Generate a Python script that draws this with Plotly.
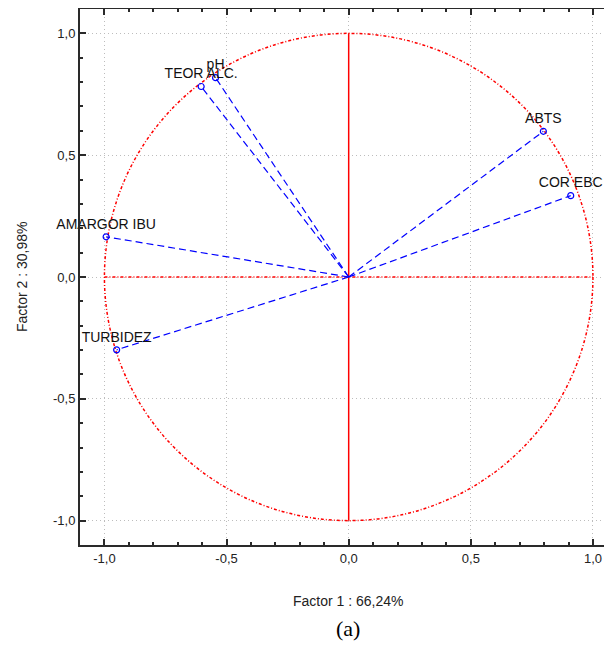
import plotly.graph_objects as go

variables = ["ABTS", "COR EBC", "pH", "TEOR ALC.", "AMARGOR IBU", "TURBIDEZ"]
factor1 = [0.797, 0.909, -0.545, -0.604, -0.993, -0.950]
factor2 = [0.598, 0.334, 0.818, 0.782, 0.165, -0.299]

tick_vals = [-1.0, -0.5, 0.0, 0.5, 1.0]
tick_text = ["-1,0", "-0,5", "0,0", "0,5", "1,0"]

x_title = "Factor 1 : 66,24%"
y_title = "Factor 2 : 30,98%"
caption = "(a)"

FONT = "Liberation Sans, Arial"
# the page adds an 8px body margin; compensate so the plot lands where the reference has it
OFF = 8
W, H = 612 - OFF, 646 - OFF
L, R, T, B = 80 - OFF, 0, 1, 101

fig = go.Figure()

# vectors from origin
lx, ly = [], []
for a, b in zip(factor1, factor2):
    lx += [0, a, None]
    ly += [0, b, None]
fig.add_trace(go.Scatter(x=lx, y=ly, mode="lines",
                         line=dict(color="#0000ff", width=1.2, dash="7px,4px"),
                         hoverinfo="skip", showlegend=False))

fig.add_trace(go.Scatter(x=factor1, y=factor2, mode="markers+text",
                         text=variables, textposition="top center", cliponaxis=False,
                         textfont=dict(family=FONT, size=14, color="#111111"),
                         marker=dict(symbol="circle-open", size=6, color="#0000ff", line=dict(width=1.2)),
                         showlegend=False))

# unit circle and axes lines
red_dd = "3px,2px,1px,2px"
fig.add_shape(type="circle", x0=-1, y0=-1, x1=1, y1=1, xref="x", yref="y",
              line=dict(color="#ff0000", width=1.5, dash=red_dd), layer="between")
fig.add_shape(type="line", x0=0, y0=-1, x1=0, y1=1, xref="x", yref="y",
              line=dict(color="#ff0000", width=1.5), layer="between")
fig.add_shape(type="line", x0=-1, y0=0, x1=1, y1=0, xref="x", yref="y",
              line=dict(color="#ff0000", width=1.5, dash=red_dd), layer="between")

axis_common = dict(
    tickvals=tick_vals, ticktext=tick_text, automargin=False,
    showgrid=True, gridcolor="#bdbdbd", griddash="1px,3px", gridwidth=1,
    zeroline=False, showline=True, linecolor="#2a2a2a", linewidth=2,
    ticks="inside", ticklen=6, tickcolor="#2a2a2a", tickwidth=1.5,
    tickfont=dict(family=FONT, size=13, color="#222222"),
    minor=dict(dtick=0.1, ticks="inside", ticklen=3, tickcolor="#2a2a2a", tickwidth=1.5, showgrid=False),
)

fig.update_xaxes(range=[-1.1, 1.078], mirror="ticks", **axis_common)
fig.update_yaxes(range=[-1.1, 1.1], mirror=False, **axis_common)

pw, ph = W - L - R, H - T - B


def px(xp):
    return (xp - OFF - L) / pw


def py(yp):
    return (H - B - (yp - OFF)) / ph


fig.add_annotation(text=x_title, x=px(348), y=py(601), xref="paper", yref="paper",
                   showarrow=False, xanchor="center", yanchor="middle",
                   font=dict(family=FONT, size=14, color="#222222"))
fig.add_annotation(text=y_title, x=px(22), y=py(277), xref="paper", yref="paper",
                   showarrow=False, xanchor="center", yanchor="middle", textangle=-90,
                   font=dict(family=FONT, size=14, color="#222222"))
fig.add_annotation(text=caption, x=px(348), y=py(628), xref="paper", yref="paper",
                   showarrow=False, xanchor="center", yanchor="middle",
                   font=dict(family="Liberation Serif, Times New Roman", size=22, color="#000000"))

fig.update_layout(
    width=W, height=H,
    margin=dict(l=L, r=R, t=T, b=B),
    plot_bgcolor="white", paper_bgcolor="white",
    showlegend=False,
)

fig.write_html("out.html")
